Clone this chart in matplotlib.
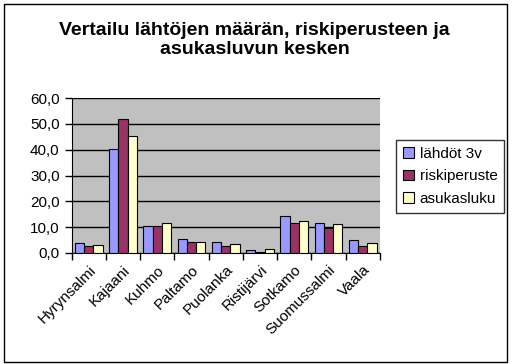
import numpy as np
import matplotlib.pyplot as plt

plt.rcParams['font.family'] = ['Liberation Sans', 'DejaVu Sans']

kunnat = ['Hyrynsalmi', 'Kajaani', 'Kuhmo', 'Paltamo', 'Puolanka',
          'Ristijärvi', 'Sotkamo', 'Suomussalmi', 'Vaala']
lahdot = [3.9, 40.4, 10.6, 5.6, 4.3, 1.2, 14.5, 11.8, 5.1]
riski = [2.7, 51.8, 10.6, 4.3, 2.7, 0.4, 11.8, 9.8, 2.7]
asukas = [3.1, 45.1, 11.8, 4.3, 3.5, 1.6, 12.5, 11.4, 3.9]
series = [('lähdöt 3v', lahdot, '#9999FF'),
          ('riskiperuste', riski, '#993366'),
          ('asukasluku', asukas, '#FFFFCC')]

fig = plt.figure(figsize=(5.12, 3.64), dpi=100)
ax = fig.add_axes([71.5 / 512, 1 - 253 / 364, 308.5 / 512, 155 / 364])
ax.set_facecolor('#C0C0C0')

x = np.arange(len(kunnat))
w = 0.27
for i, (name, vals, col) in enumerate(series):
    ax.bar(x + (i - 1) * w, vals, w, color=col, edgecolor='black',
           linewidth=0.8, label=name, zorder=3)

ax.set_xlim(-0.5, len(kunnat) - 0.5)
ax.set_ylim(0, 60)
ax.set_yticks(np.arange(0, 61, 10))
ax.set_yticklabels([f'{v:.1f}'.replace('.', ',') for v in range(0, 61, 10)],
                   fontsize=11)
ax.yaxis.grid(True, color='black', linewidth=1, zorder=1)
ax.set_xticks(np.arange(-0.5, len(kunnat), 1))
ax.set_xticklabels([])
ax.set_xticks(x, minor=True)
ax.set_xticklabels(kunnat, minor=True, rotation=45, ha='right',
                   rotation_mode='anchor', fontsize=11)
ax.tick_params(axis='x', which='minor', length=0, pad=7)
ax.tick_params(axis='both', which='major', length=5, width=1, direction='out')
for s in ['top', 'right']:
    ax.spines[s].set_visible(False)
ax.spines['left'].set_color('black')
ax.spines['bottom'].set_color('black')

fig.text(0.497, 1 - 40 / 364, 'Vertailu lähtöjen määrän, riskiperusteen ja\nasukasluvun kesken',
         ha='center', va='center', fontsize=14, fontweight='bold', linespacing=1.2)

leg = ax.legend(loc='upper left', bbox_to_anchor=(396 / 512, 1 - 140 / 364),
                bbox_transform=fig.transFigure, fontsize=11, frameon=True,
                fancybox=False, edgecolor='black', handlelength=0.7,
                handleheight=0.7, handletextpad=0.4, borderpad=0.45,
                labelspacing=0.55, borderaxespad=0)
leg.get_frame().set_linewidth(1)

fig.patches.append(plt.Rectangle((4 / 512, 2 / 364), 503 / 512, 358 / 364,
                                 transform=fig.transFigure, fill=False,
                                 edgecolor='black', linewidth=1))

fig.savefig('out.png', dpi=100)
